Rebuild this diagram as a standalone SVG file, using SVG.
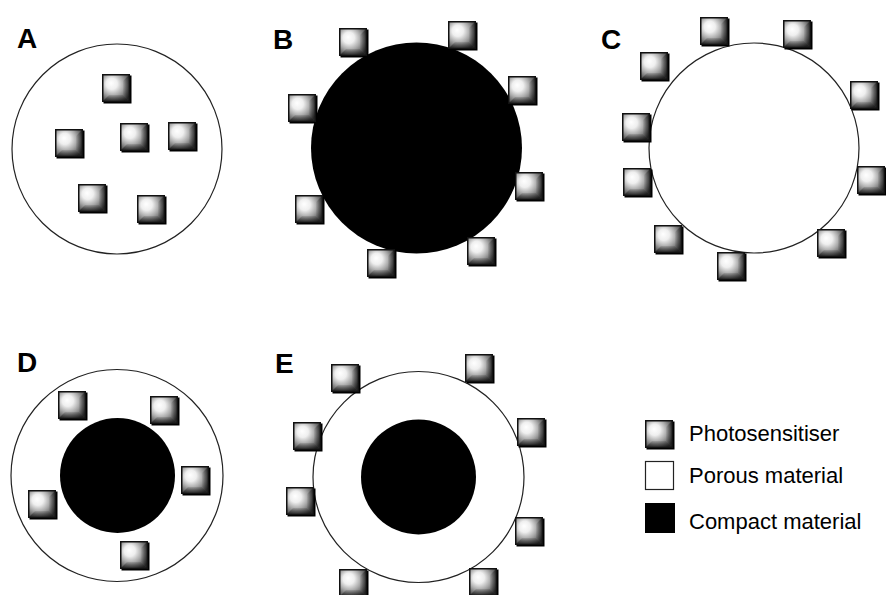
<svg xmlns="http://www.w3.org/2000/svg" xmlns:xlink="http://www.w3.org/1999/xlink" width="886" height="595" viewBox="0 0 886 595">
  <style>
    .panel-label { font-family: "Liberation Sans", Arial, sans-serif; font-weight: bold; font-size: 28px; fill: #000; }
    .legend-text { font-family: "Liberation Sans", Arial, sans-serif; font-size: 22px; fill: #000; }
    .porous { fill: #fff; stroke: #222; stroke-width: 1.2; }
    .compact { fill: #000; }
  </style>
  <defs>
    <radialGradient id="psGlow" cx="0.4" cy="0.4" r="0.75" fx="0.3" fy="0.3">
      <stop offset="0" stop-color="#ffffff"/>
      <stop offset="0.3" stop-color="#efefef"/>
      <stop offset="0.6" stop-color="#a8a8a8"/>
      <stop offset="1" stop-color="#3a3a3a"/>
    </radialGradient>
    <linearGradient id="psRight" x1="0" y1="0" x2="1" y2="0">
      <stop offset="0" stop-color="#000" stop-opacity="0.05"/>
      <stop offset="1" stop-color="#000" stop-opacity="0.45"/>
    </linearGradient>
    <linearGradient id="psBottom" x1="0" y1="0" x2="0" y2="1">
      <stop offset="0" stop-color="#000" stop-opacity="0.1"/>
      <stop offset="1" stop-color="#000" stop-opacity="0.5"/>
    </linearGradient>
    <!-- bevelled photosensitiser tile, 30x30 -->
    <symbol id="ps" viewBox="0 0 30 30">
      <rect x="1.5" y="1.5" width="28" height="28" fill="#000"/>
      <rect x="0" y="0" width="28" height="28" fill="#111"/>
      <rect x="1.5" y="1.5" width="25" height="25" fill="url(#psGlow)"/>
      <polygon points="26.5,1.5 26.5,26.5 21,21 21,7" fill="url(#psRight)"/>
      <polygon points="1.5,26.5 26.5,26.5 21,21 7,21" fill="url(#psBottom)"/>
    </symbol>
  </defs>

  <!-- A: porous particle with embedded photosensitiser -->
  <g id="panel-A">
    <text class="panel-label" x="17" y="48">A</text>
    <circle class="porous" cx="117" cy="149" r="105"/>
    <use href="#ps" x="102" y="74" width="30" height="30"/>
    <use href="#ps" x="55" y="129" width="30" height="30"/>
    <use href="#ps" x="120" y="123" width="30" height="30"/>
    <use href="#ps" x="168" y="122" width="30" height="30"/>
    <use href="#ps" x="78" y="184" width="30" height="30"/>
    <use href="#ps" x="137" y="195" width="30" height="30"/>
  </g>

  <!-- B: compact core, surface-bound photosensitiser -->
  <g id="panel-B">
    <text class="panel-label" x="273" y="49">B</text>
    <circle class="compact" cx="416.5" cy="148" r="105.5"/>
    <use href="#ps" x="339" y="28" width="30" height="30"/>
    <use href="#ps" x="448" y="21" width="30" height="30"/>
    <use href="#ps" x="508" y="76" width="30" height="30"/>
    <use href="#ps" x="288" y="94" width="30" height="30"/>
    <use href="#ps" x="515" y="172" width="30" height="30"/>
    <use href="#ps" x="295" y="195" width="30" height="30"/>
    <use href="#ps" x="467" y="237" width="30" height="30"/>
    <use href="#ps" x="367" y="249" width="30" height="30"/>
  </g>

  <!-- C: porous particle, surface-bound photosensitiser -->
  <g id="panel-C">
    <text class="panel-label" x="601" y="49">C</text>
    <circle class="porous" cx="754" cy="148" r="105"/>
    <use href="#ps" x="700" y="17" width="30" height="30"/>
    <use href="#ps" x="783" y="20" width="30" height="30"/>
    <use href="#ps" x="640" y="52" width="30" height="30"/>
    <use href="#ps" x="850" y="81" width="30" height="30"/>
    <use href="#ps" x="622" y="113" width="30" height="30"/>
    <use href="#ps" x="623" y="168" width="30" height="30"/>
    <use href="#ps" x="857" y="166" width="30" height="30"/>
    <use href="#ps" x="654" y="225" width="30" height="30"/>
    <use href="#ps" x="817" y="229" width="30" height="30"/>
    <use href="#ps" x="717" y="252" width="30" height="30"/>
  </g>

  <!-- D: core-shell, photosensitiser within the porous shell -->
  <g id="panel-D">
    <text class="panel-label" x="17" y="372">D</text>
    <circle class="porous" cx="117" cy="475.5" r="106"/>
    <circle class="compact" cx="117.5" cy="475.5" r="57.5"/>
    <use href="#ps" x="58" y="391" width="30" height="30"/>
    <use href="#ps" x="150" y="396" width="30" height="30"/>
    <use href="#ps" x="181" y="466" width="30" height="30"/>
    <use href="#ps" x="28" y="490" width="30" height="30"/>
    <use href="#ps" x="120" y="541" width="30" height="30"/>
  </g>

  <!-- E: core-shell, photosensitiser on the shell surface -->
  <g id="panel-E">
    <text class="panel-label" x="275" y="373">E</text>
    <circle class="porous" cx="418.5" cy="477" r="105.5"/>
    <circle class="compact" cx="418.5" cy="477" r="57.5"/>
    <use href="#ps" x="331" y="364" width="30" height="30"/>
    <use href="#ps" x="465" y="354" width="30" height="30"/>
    <use href="#ps" x="517" y="418" width="30" height="30"/>
    <use href="#ps" x="293" y="422" width="30" height="30"/>
    <use href="#ps" x="286" y="487" width="30" height="30"/>
    <use href="#ps" x="515" y="517" width="30" height="30"/>
    <use href="#ps" x="339" y="569" width="30" height="30"/>
    <use href="#ps" x="469" y="568" width="30" height="30"/>
  </g>

  <!-- legend -->
  <g id="legend">
    <use href="#ps" x="645" y="420" width="30" height="30"/>
    <text class="legend-text" x="689" y="441">Photosensitiser</text>
    <rect class="porous" x="645.5" y="461.5" width="28" height="28"/>
    <text class="legend-text" x="689" y="483">Porous material</text>
    <rect class="compact" x="645" y="503" width="30" height="30"/>
    <text class="legend-text" x="689" y="529">Compact material</text>
  </g>
</svg>
